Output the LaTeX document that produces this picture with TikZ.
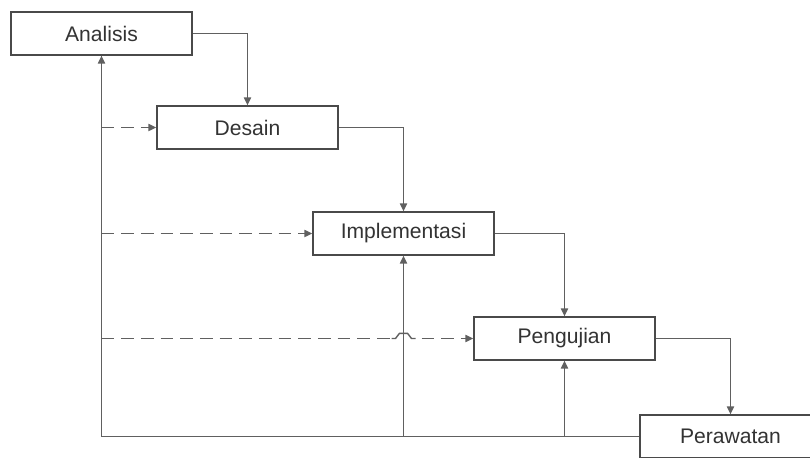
\documentclass[tikz,border=0pt]{standalone}
\usepackage{fontspec}
\setmainfont{Liberation Sans}
\usetikzlibrary{arrows.meta,positioning}
\definecolor{linegray}{HTML}{606060}
\definecolor{boxgray}{HTML}{4A4A4A}
\definecolor{textgray}{HTML}{333333}
\tikzset{
    phase/.style={rectangle, draw=boxgray, line width=0.9pt, fill=white,
        minimum width=4.525cm, minimum height=1.075cm, inner sep=0pt,
        text=textgray, font=\fontsize{15}{18}\selectfont},
    flow/.style={draw=linegray, line width=1pt, -{Triangle[length=2mm, width=1.8mm]}},
    back/.style={draw=linegray, line width=1pt},
    dflow/.style={flow, dash pattern=on 9pt off 5pt},
    dline/.style={back, dash pattern=on 9pt off 5pt}
}
\begin{document}
\begin{tikzpicture}[x=0.025cm, y=-0.025cm]
    \useasboundingbox (0,0) rectangle (810,458);
    % Nodes
    \node[phase] (analisis) at (101.5,33.5) {Analisis};
    \node[phase] (desain) at (247.5,127.5) {Desain};
    \node[phase] (implementasi) at (403.5,233.5) {Implementasi};
    \node[phase] (pengujian) at (564.5,338.5) {Pengujian};
    \node[phase] (perawatan) at (730.5,436.5) {Perawatan};

    % edges
    \draw[flow] (analisis.east) -| (desain.north);
    \draw[flow] (desain.east) -| (implementasi.north);
    \draw[flow] (implementasi.east) -| (pengujian.north);
    \draw[flow] (pengujian.east) -| (perawatan.north);

    % feedback
    \coordinate (b1) at (implementasi.south |- perawatan.west);
    \coordinate (b2) at (pengujian.south |- perawatan.west);
    \draw[flow] (perawatan.west) -| (analisis.south);
    \draw[flow] (b1) -- (implementasi.south);
    \draw[flow] (b2) -- (pengujian.south);

    % dashed
    \coordinate (d1) at (analisis.south |- desain.west);
    \coordinate (d2) at (analisis.south |- implementasi.west);
    \coordinate (d3) at (analisis.south |- pengujian.west);
    \coordinate (jl) at ([xshift=-0.2cm]implementasi.south |- pengujian.west);
    \coordinate (jr) at ([xshift=0.2cm]implementasi.south |- pengujian.west);
    \draw[dflow] (d1) -- (desain.west);
    \draw[dflow] (d2) -- (implementasi.west);
    \draw[dline] (d3) -- ([xshift=-0.15cm]jl);
    \draw[back] ([xshift=-0.1cm]jl) -- (jl) -- ++(0.1cm,0.13cm) -- ([xshift=-0.1cm,yshift=0.13cm]jr)
        -- (jr) -- ++(0.1cm,0);
    \draw[dflow] ([xshift=0.25cm]jr) -- (pengujian.west);
\end{tikzpicture}
\end{document}
